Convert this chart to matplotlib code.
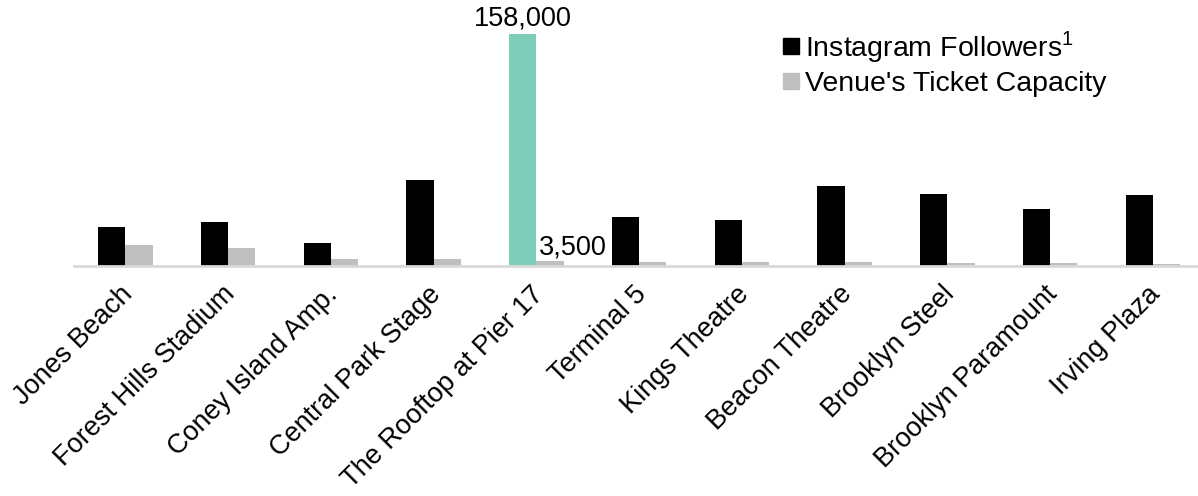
import numpy as np
import matplotlib
matplotlib.use("Agg")
from matplotlib import pyplot as plt
from matplotlib.lines import Line2D
from matplotlib import transforms

plt.rcParams['font.family'] = ['Liberation Sans', 'DejaVu Sans']
plt.rcParams['mathtext.fontset'] = 'custom'
plt.rcParams['mathtext.rm'] = 'Liberation Sans'

# Data
venues = ["Jones Beach", "Forest Hills Stadium", "Coney Island Amp.", "Central Park Stage",
          "The Rooftop at Pier 17", "Terminal 5", "Kings Theatre", "Beacon Theatre",
          "Brooklyn Steel", "Brooklyn Paramount", "Irving Plaza"]
followers = [26600, 29800, 15700, 58400, 158000, 33200, 31100, 54300, 48800, 39000, 48300]
capacity = [14300, 12300, 5000, 5000, 3500, 3000, 3000, 2800, 1800, 2000, 1100]
highlight = 4  # The Rooftop at Pier 17

BLACK = "#000000"
GRAY = "#bfbfbf"
TEAL = "#7dcdb9"

fig = plt.figure(figsize=(11.98, 4.96), dpi=100)
ax = fig.add_axes([0.0618, 0.4637, 0.9382, 0.4736])

x = np.arange(len(venues))
w = 0.265
colors = [TEAL if i == highlight else BLACK for i in range(len(venues))]
ax.bar(x - w / 2, followers, width=w, color=colors)
ax.bar(x + w / 2, capacity, width=w, color=GRAY)

# value labels for the highlighted venue
ax.annotate(f"{followers[highlight]:,}", (x[highlight] - w / 2, followers[highlight]),
            xytext=(0, 2), textcoords="offset points", ha="center", va="bottom",
            fontsize=19.5)
ax.annotate(f"{capacity[highlight]:,}", (x[highlight], capacity[highlight]),
            xytext=(2, 0), textcoords="offset points", ha="left", va="bottom",
            fontsize=19.5)

ax.set_xlim(-0.5, 10.44)
ax.set_ylim(0, 160000)
ax.set_xticks(x)
ax.set_xticklabels(venues, rotation=45, ha="right", rotation_mode="anchor", fontsize=19.5)
ax.tick_params(axis="x", length=0, pad=11)
shift = transforms.ScaledTranslation(-6 / 100, 0, fig.dpi_scale_trans)
for lbl in ax.get_xticklabels():
    lbl.set_transform(lbl.get_transform() + shift)
ax.set_yticks([])
for s in ["top", "right", "left"]:
    ax.spines[s].set_visible(False)
ax.spines["bottom"].set_color("#d9d9d9")
ax.spines["bottom"].set_linewidth(2)

handles = [Line2D([], [], marker="s", linestyle="none", color=BLACK, markersize=11),
           Line2D([], [], marker="s", linestyle="none", color=GRAY, markersize=11)]
fig.legend(handles, ["Instagram Followers$^{1}$", "Venue's Ticket Capacity"],
           loc="upper left", bbox_to_anchor=(0.641, 0.970), frameon=False,
           fontsize=20.5, handlelength=0.6, handletextpad=0.2, labelspacing=0.2,
           borderpad=0)

fig.savefig("out.png", dpi=100)
